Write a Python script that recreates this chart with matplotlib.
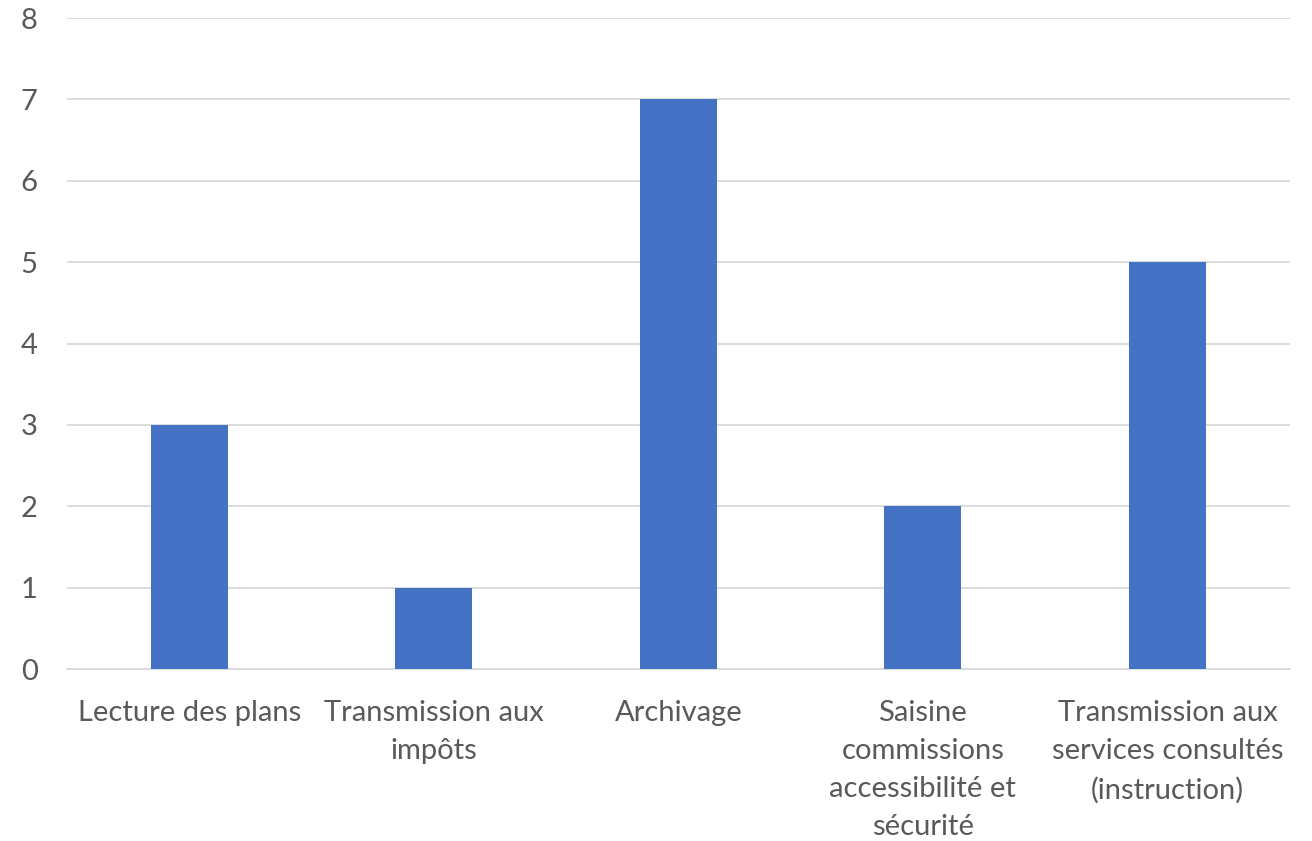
import matplotlib
matplotlib.use('Agg')
import matplotlib.pyplot as plt
import numpy as np

categories = ['Lecture des plans', 'Transmission aux\nimpôts', 'Archivage',
              'Saisine\ncommissions\naccessibilité et\nsécurité',
              'Transmission aux\nservices consultés\n(instruction)']
values = [3, 1, 7, 2, 5]
y_ticks = [0, 1, 2, 3, 4, 5, 6, 7, 8]

plt.rcParams['font.family'] = ['Lato', 'DejaVu Sans']

fig = plt.figure(figsize=(13.12, 8.41), dpi=100)
ax = fig.add_axes([0.051, 0.2045, 0.932, 0.774])

x = np.arange(len(categories))
ax.bar(x, values, width=0.315, color='#4472C4', zorder=3)

ax.set_xlim(-0.5, len(categories) - 0.5)
ax.set_ylim(0, 8)
ax.set_yticks(y_ticks)
ax.set_xticks(x)
ax.set_xticklabels(categories, linespacing=1.58)
ax.grid(axis='y', color='#D9D9D9', linewidth=1.3, zorder=0)
ax.tick_params(axis='both', length=0, labelsize=21, colors='#595959')
ax.tick_params(axis='x', pad=22)
ax.tick_params(axis='y', pad=21)

for side in ['top', 'right', 'left']:
    ax.spines[side].set_visible(False)
ax.spines['bottom'].set_color('#D9D9D9')
ax.spines['bottom'].set_linewidth(1.3)

fig.savefig('out.png', dpi=100)
